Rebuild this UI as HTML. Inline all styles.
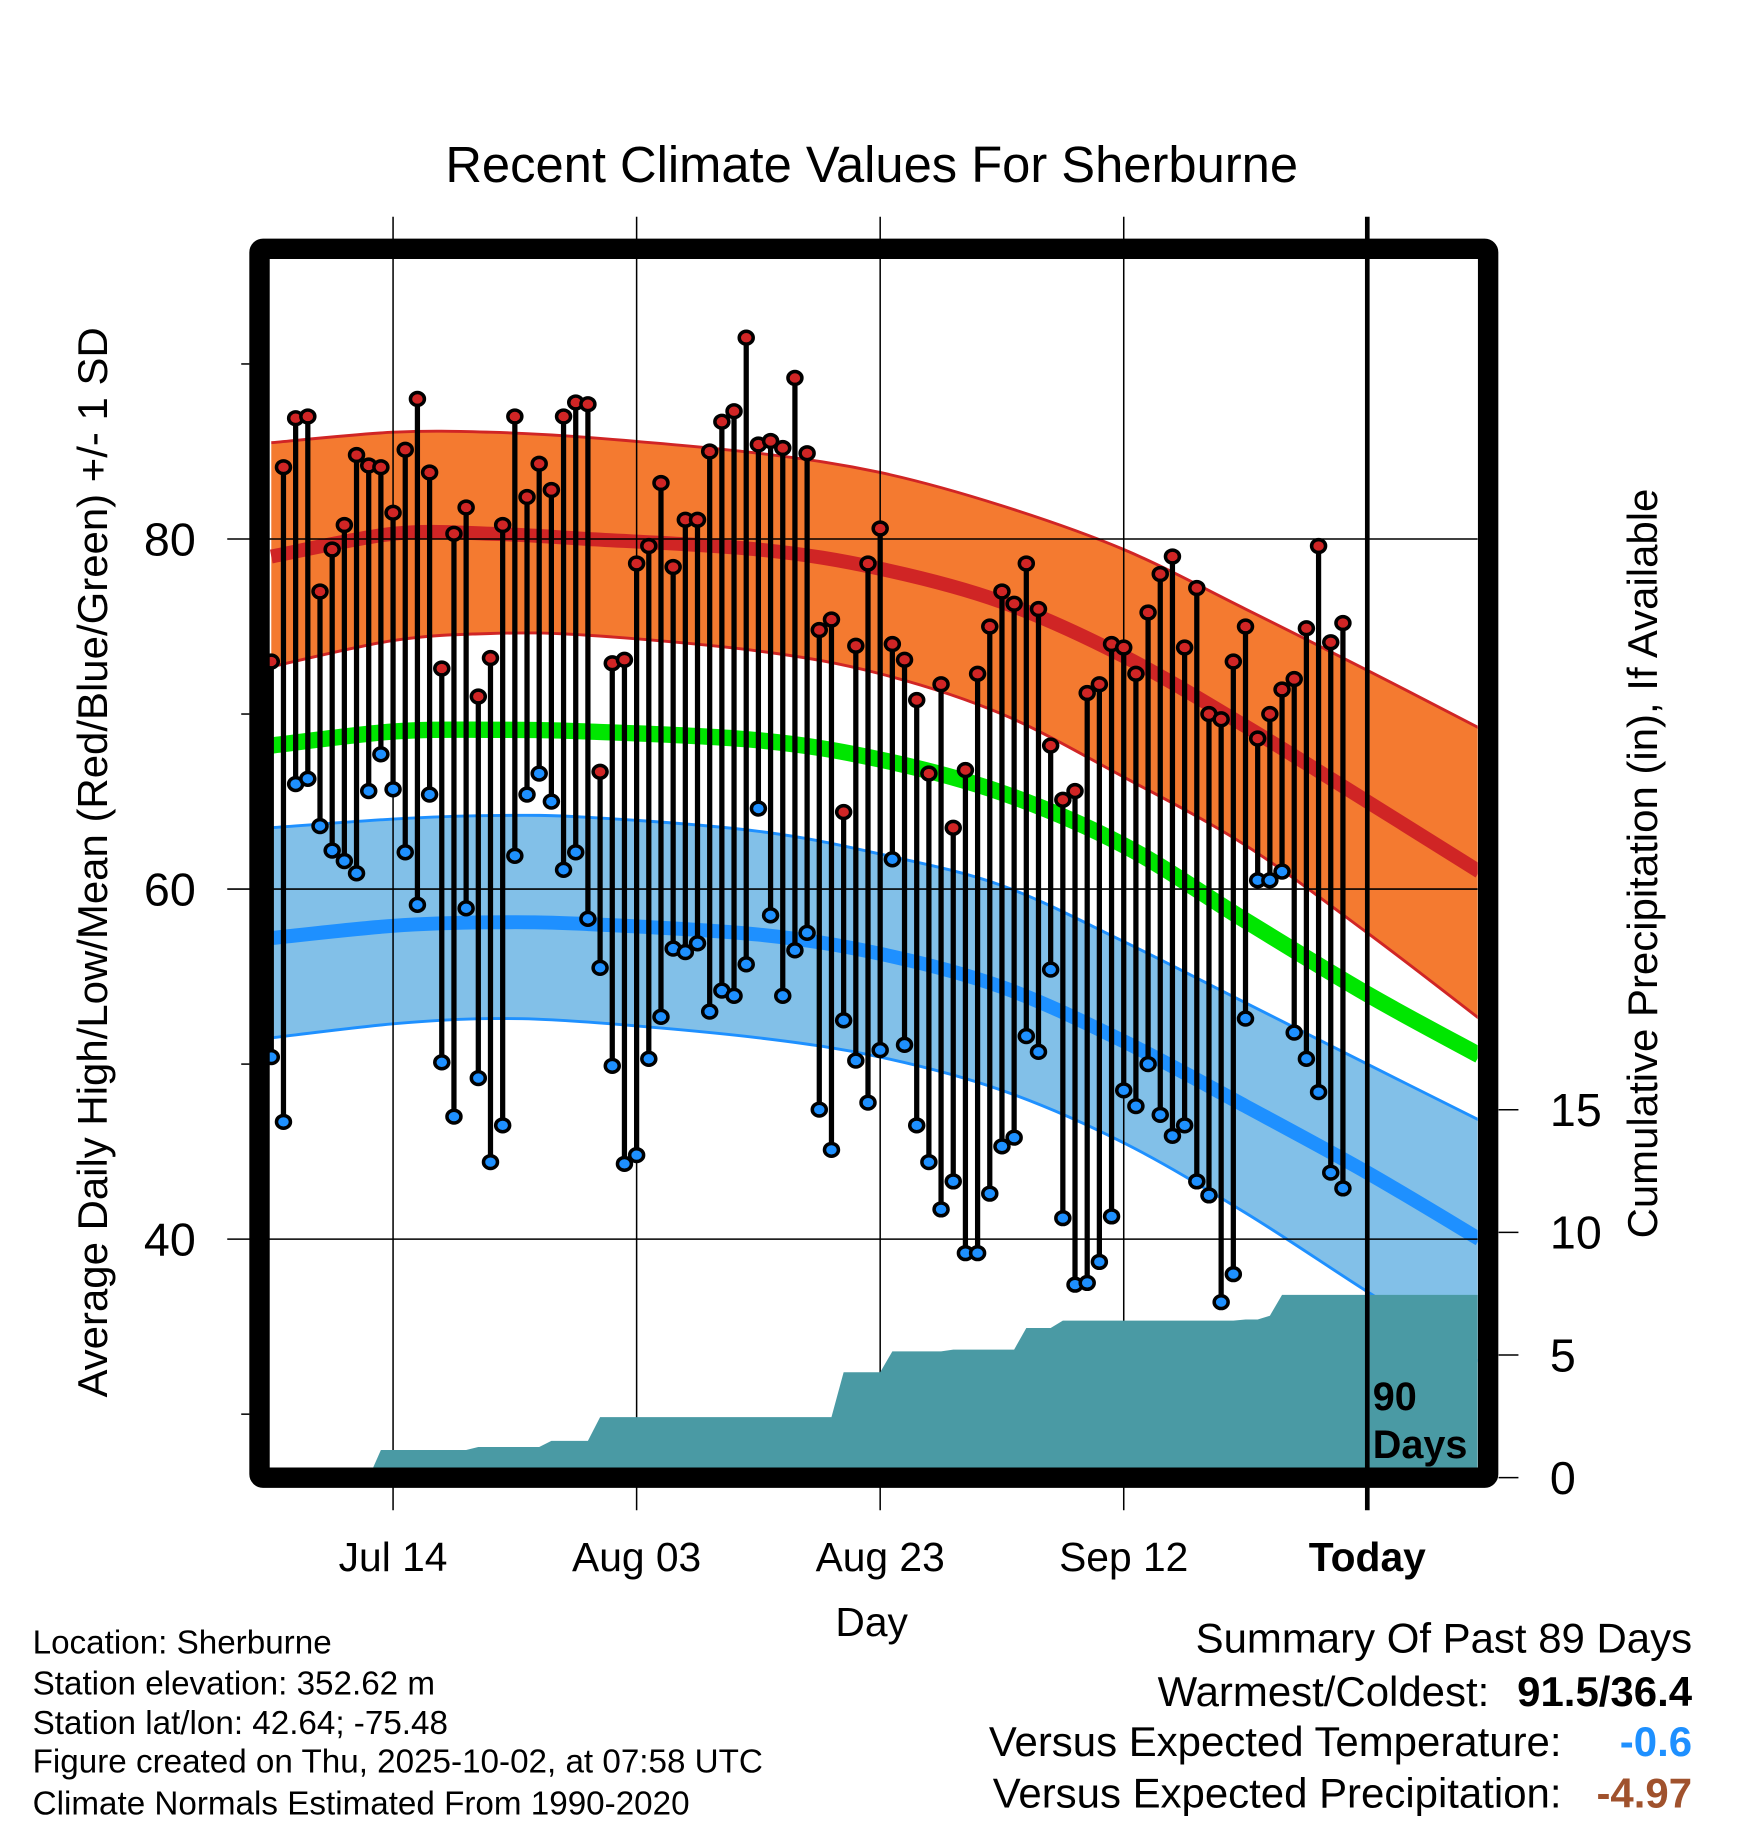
<!DOCTYPE html>
<html><head><meta charset="utf-8"><style>
html,body{margin:0;padding:0;background:#fff;}
svg{display:block;font-family:"Liberation Sans",Arial,sans-serif;}
</style></head><body>
<svg id="chart" width="1748" height="1828" viewBox="0 0 1500 1568.6" xmlns="http://www.w3.org/2000/svg">
<rect x="0" y="0" width="1500" height="1568.6" fill="#fff"/>
<text x="748" y="156" font-size="43.5" text-anchor="middle">Recent Climate Values For Sherburne</text>
<g id="bands"></g>
<g id="grid"></g>
<g id="stems"></g>
<g id="precip"></g>
<g id="axes"></g>
<text transform="translate(92,740) rotate(-90)" font-size="36" text-anchor="middle">Average Daily High/Low/Mean (Red/Blue/Green) +/- 1 SD</text>
<text transform="translate(1422,741) rotate(-90)" font-size="36" text-anchor="middle">Cumulative Precipitation (in), If Available</text>
<text x="748" y="1404" font-size="35" text-anchor="middle">Day</text>
<text x="1178" y="1210" font-size="34" font-weight="bold">90</text>
<text x="1178" y="1251" font-size="34" font-weight="bold">Days</text>
<g font-size="28.5">
<text x="28" y="1419">Location: Sherburne</text>
<text x="28" y="1454">Station elevation: 352.62 m</text>
<text x="28" y="1488">Station lat/lon: 42.64; -75.48</text>
<text x="28" y="1521">Figure created on Thu, 2025-10-02, at 07:58 UTC</text>
<text x="28" y="1557">Climate Normals Estimated From 1990-2020</text>
</g>
<g font-size="36" text-anchor="end">
<text x="1452" y="1418">Summary Of Past 89 Days</text>
<text x="1278" y="1464">Warmest/Coldest:</text>
<text x="1452" y="1464" font-weight="bold">91.5/36.4</text>
<text x="1340" y="1507">Versus Expected Temperature:</text>
<text x="1452" y="1507" font-weight="bold" fill="#1e90ff">-0.6</text>
<text x="1340" y="1551">Versus Expected Precipitation:</text>
<text x="1452" y="1551" font-weight="bold" fill="#a0522d">-4.97</text>
</g>
</svg>
<script>
const highs=[73,84.1,86.9,87,77,79.4,80.8,84.8,84.2,84.1,81.5,85.1,88,83.8,72.6,80.3,81.8,71,73.2,80.8,87,82.4,84.3,82.8,87,87.8,87.7,66.7,72.9,73.1,78.6,79.6,83.2,78.4,81.1,81.1,85,86.7,87.3,91.5,85.4,85.6,85.2,89.2,84.9,74.8,75.4,64.4,73.9,78.6,80.6,74,73.1,70.8,66.6,71.7,63.5,66.8,72.3,75,77,76.3,78.6,76,68.2,65.1,65.6,71.2,71.7,74,73.8,72.3,75.8,78,79,73.8,77.2,70,69.7,73,75,68.6,70,71.4,72,74.9,79.6,74.1,75.2];
const lows=[50.4,46.7,66,66.3,63.6,62.2,61.6,60.9,65.6,67.7,65.7,62.1,59.1,65.4,50.1,47,58.9,49.2,44.4,46.5,61.9,65.4,66.6,65,61.1,62.1,58.3,55.5,49.9,44.3,44.8,50.3,52.7,56.6,56.4,56.9,53,54.2,53.9,55.7,64.6,58.5,53.9,56.5,57.5,47.4,45.1,52.5,50.2,47.8,50.8,61.7,51.1,46.5,44.4,41.7,43.3,39.2,39.2,42.6,45.3,45.8,51.6,50.7,55.4,41.2,37.4,37.5,38.7,41.3,48.5,47.6,50,47.1,45.9,46.5,43.3,42.5,36.4,38,52.6,60.5,60.5,61,51.8,50.3,48.4,43.8,42.9];
const precip=[0,0,0,0,0,0,0,0,0,1.13,1.13,1.13,1.13,1.13,1.13,1.13,1.13,1.25,1.25,1.25,1.25,1.25,1.25,1.5,1.5,1.5,1.5,2.47,2.47,2.47,2.47,2.47,2.47,2.47,2.47,2.47,2.47,2.47,2.47,2.47,2.47,2.47,2.47,2.47,2.47,2.47,2.47,4.3,4.3,4.3,4.3,5.15,5.15,5.15,5.15,5.15,5.22,5.22,5.22,5.22,5.22,5.22,6.1,6.1,6.1,6.4,6.4,6.4,6.4,6.4,6.4,6.4,6.4,6.4,6.4,6.4,6.4,6.4,6.4,6.4,6.45,6.45,6.6,7.45,7.45,7.45,7.45,7.45,7.45];
const normDays=[0,10,18,26,40,50,60,70,80,90,99.2];
const normHigh=[79,80.3,80.3,80,79.4,78.3,76.4,73.3,69.3,65,61];
const normHighUp=[85.5,86.1,86.1,85.8,84.9,83.8,81.9,79.4,76,72.5,69.2];
const normHighLo=[72.7,74.2,74.6,74.5,73.6,72.3,70,66.4,62.5,57.5,52.6];
const normMean=[68.2,69,69.1,69,68.5,67.4,65.5,62.5,58.2,54,50.5];
const normLow=[57.2,57.9,58.1,58,57.4,56.3,54.4,51.3,47.6,43.8,40];
const normLowUp=[63.5,64,64.2,64.1,63.3,62,60.2,57,53.5,50,46.8];
const normLowLo=[51.5,52.3,52.6,52.4,51.5,50.4,48.5,45.5,41.5,37,33];
const xTickDays=[10,30,50,70,90];
const xTickLabels=["Jul 14","Aug 03","Aug 23","Sep 12","Today"];
const yTicks=[40,60,80];
const yMinor=[30,50,70,90];
const pTicks=[0,5,10,15];

const NS="http://www.w3.org/2000/svg";
const X=d=>232.8+10.45*d;
const Y=t=>462.5-(t-80)*15.02;
const P=p=>1268-p*21.05;
const L=231.7,R=1268,T=223,B=1259.5;
function mk(tag,attrs,parent){const e=document.createElementNS(NS,tag);for(const k in attrs)e.setAttribute(k,attrs[k]);parent.appendChild(e);return e;}
function smooth(xs,ys){
  const pts=xs.map((x,i)=>[X(x),Y(ys[i])]);
  let d="M"+pts[0][0]+","+pts[0][1];
  for(let i=0;i<pts.length-1;i++){
    const p0=pts[Math.max(0,i-1)],p1=pts[i],p2=pts[i+1],p3=pts[Math.min(pts.length-1,i+2)];
    const c1=[p1[0]+(p2[0]-p0[0])/6,p1[1]+(p2[1]-p0[1])/6];
    const c2=[p2[0]-(p3[0]-p1[0])/6,p2[1]-(p3[1]-p1[1])/6];
    d+=" C"+c1+" "+c2+" "+p2;
  }
  return d;
}
function bandPath(up,lo){
  const a=smooth(normDays,up);
  const rd=[...normDays].reverse(),rl=[...lo].reverse();
  const b=smooth(rd,rl).replace(/^M/," L");
  return a+b+" Z";
}
const svg=document.getElementById('chart');
const bands=document.getElementById('bands');
const clip=mk('clipPath',{id:'plotclip'},svg);
mk('rect',{x:L,y:T,width:R-L,height:B-T},clip);
bands.setAttribute('clip-path','url(#plotclip)');
let e;
e=mk('path',{d:bandPath(normHighUp,normHighLo),fill:'#f47a30',stroke:'none'},bands);


e=mk('path',{d:smooth(normDays,normHighUp),fill:'none',stroke:'#d02525','stroke-width':2.5},bands);


e=mk('path',{d:smooth(normDays,normHighLo),fill:'none',stroke:'#d02525','stroke-width':2.5},bands);


e=mk('path',{d:smooth(normDays,normHigh),fill:'none',stroke:'#d02525','stroke-width':12},bands);


e=mk('path',{d:bandPath(normLowUp,normLowLo),fill:'#82c0e8',stroke:'none'},bands);


e=mk('path',{d:smooth(normDays,normLowUp),fill:'none',stroke:'#1e90ff','stroke-width':2.5},bands);


e=mk('path',{d:smooth(normDays,normLowLo),fill:'none',stroke:'#1e90ff','stroke-width':2.5},bands);


e=mk('path',{d:smooth(normDays,normLow),fill:'none',stroke:'#1e90ff','stroke-width':12},bands);


e=mk('path',{d:smooth(normDays,normMean),fill:'none',stroke:'#00e600','stroke-width':14},bands);



const grid=document.getElementById('grid');
yTicks.forEach(t=>{
  const g=mk('line',{x1:195,x2:R,y1:Y(t),y2:Y(t),stroke:'#000','stroke-width':1.3},grid);
  
  
});
xTickDays.slice(0,4).forEach((d,i)=>{
  const g=mk('line',{x1:X(d),x2:X(d),y1:186,y2:1296,stroke:'#000','stroke-width':1.3},grid);
  
  
});

const stems=document.getElementById('stems');
highs.forEach((h,i)=>{
  const s=mk('line',{x1:X(i),x2:X(i),y1:Y(h),y2:Y(lows[i]),stroke:'#000','stroke-width':4.5},stems);
  
  
});
highs.forEach((h,i)=>{
  const c=mk('ellipse',{cx:X(i),cy:Y(h),rx:6,ry:5.5,fill:'#d02525',stroke:'#000','stroke-width':3},stems);
  
  
  const c2=mk('ellipse',{cx:X(i),cy:Y(lows[i]),rx:6,ry:5.5,fill:'#1e90ff',stroke:'#000','stroke-width':3},stems);
  
  
});

const pg=document.getElementById('precip');
let pd="M"+X(0)+","+B;
precip.forEach((p,i)=>{pd+=" L"+X(i)+","+P(p);});
pd+=" L"+R+","+P(precip[precip.length-1])+" L"+R+","+B+" Z";
e=mk('path',{d:pd,fill:'#4a9aa4',stroke:'none'},pg);



const ax=document.getElementById('axes');
e=mk('line',{x1:X(90),x2:X(90),y1:186,y2:1296,stroke:'#000','stroke-width':4},ax);


e=mk('rect',{x:222.7,y:213.5,width:1277-222.7,height:1268-213.5,fill:'none',stroke:'#000','stroke-width':17.5,rx:3},ax);


yTicks.forEach(t=>{
  const tx=mk('text',{x:168,y:Y(t)+14,'font-size':40,'text-anchor':'end'},ax);
  tx.textContent=t;
  
  
});
yMinor.forEach(t=>{
  const l=mk('line',{x1:207,x2:214,y1:Y(t),y2:Y(t),stroke:'#000','stroke-width':1.3},ax);
  
  
});
pTicks.forEach(p=>{
  const l=mk('line',{x1:1286,x2:1303,y1:P(p),y2:P(p),stroke:'#000','stroke-width':1.3},ax);
  
  
  const tx=mk('text',{x:1330,y:P(p)+14,'font-size':40},ax);
  tx.textContent=p;
  
  
});
xTickDays.forEach((d,i)=>{
  const tx=mk('text',{x:X(d),y:1348,'font-size':35,'text-anchor':'middle'},ax);
  if(i===4)tx.setAttribute('font-weight','bold');
  tx.textContent=xTickLabels[i];
  
  
});
</script>
</body></html>
